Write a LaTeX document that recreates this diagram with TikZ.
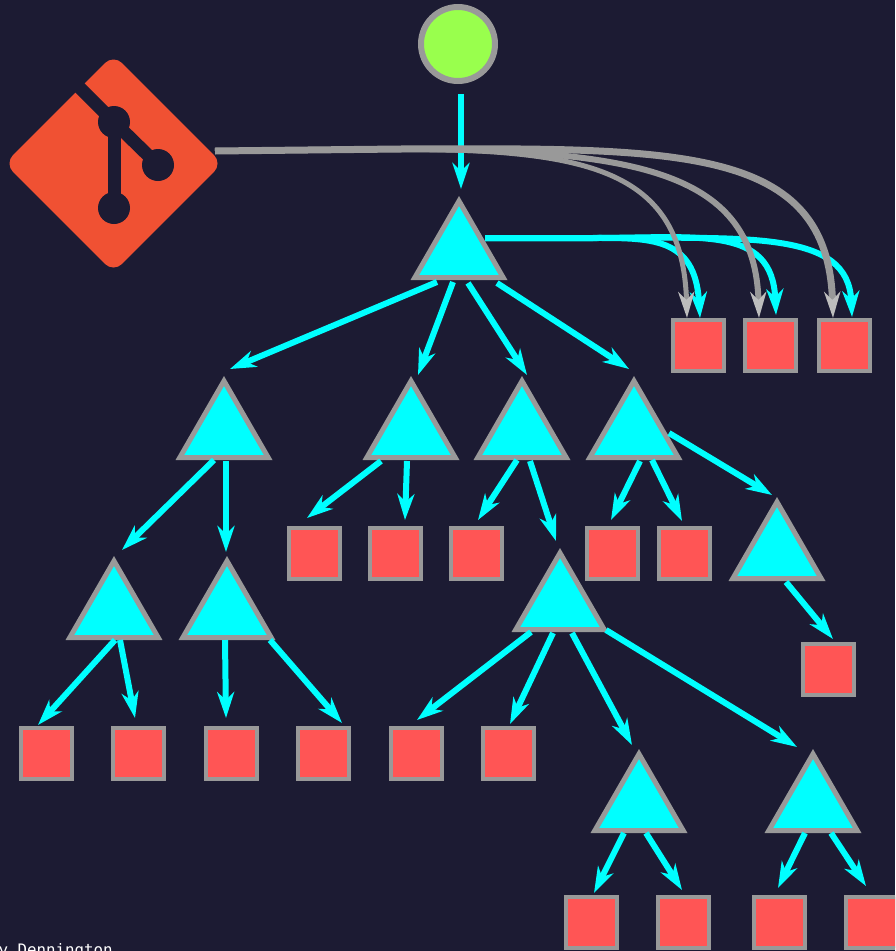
\documentclass[tikz,border=0pt]{standalone}
\usepackage{fontspec}
\usetikzlibrary{arrows.meta,calc,shapes.geometric}
\setmonofont{DejaVu Sans Mono}
\definecolor{bgc}{HTML}{1C1B33}
\definecolor{edgegray}{HTML}{999999}
\definecolor{tipgray}{HTML}{BDBDBD}
\definecolor{cyanc}{HTML}{00FFFF}
\definecolor{redc}{HTML}{FF5555}
\definecolor{limec}{HTML}{99FF4D}
\definecolor{gitc}{HTML}{F05133}
\tikzset{
  tri/.style={regular polygon,regular polygon sides=3,minimum size=102pt,inner sep=0pt,outer sep=0pt,draw=edgegray,fill=cyanc,line width=5pt},
  sq/.style={rectangle,minimum size=51pt,inner sep=0pt,outer sep=0pt,draw=edgegray,fill=redc,line width=4pt},
  startnode/.style={circle,minimum size=74pt,inner sep=0pt,outer sep=0pt,draw=edgegray,fill=limec,line width=6pt},
  flow/.style={cyanc,line width=6pt,-{Stealth[length=26pt,width=17pt,inset=8pt]}},
  gitflow/.style={edgegray,-{Stealth[length=26pt,width=16pt,inset=8pt,fill=tipgray,color=tipgray]}},
  gitlogo/.style={diamond,minimum size=184pt,inner sep=0pt,outer sep=0pt,fill=gitc,draw=gitc,line width=24pt,line join=round},
  gitmark/.style={bgc,line width=13pt},
  gitdot/.style={circle,fill=bgc,minimum size=32pt,inner sep=0pt,outer sep=0pt},
  credit/.style={text=white,font=\ttfamily\fontsize{15.8pt}{16pt}\selectfont,anchor=base west,inner sep=0pt,outer sep=0pt}
}
\newcommand{\conn}[4]{\draw[flow] ($(#1)+(#2)$) -- ($(#3)+(#4)$);}
\begin{document}
\begin{tikzpicture}[x=1pt,y=-1pt]
\useasboundingbox (0,0) rectangle (895,951);
\clip (0,0) rectangle (895,951);
\fill[bgc] (0,0) rectangle (895,951);

% git logo
\node[gitlogo] (git) at (113.5,163.5) {};
\node[gitdot] (gita) at (114,122) {};
\node[gitdot] (gitb) at (158,165) {};
\node[gitdot] (gitc) at (114,208) {};
\coordinate (gitslit) at (74,82);
\draw[gitmark] (gitslit) -- (gita.center) -- (gitb.center);
\draw[gitmark] (gita.center) -- (gitc.center);

% nodes
\node[startnode] (top) at (458,44) {};
\node[tri] (root) at (459,252) {};
\node[tri] (a) at (224,432) {};
\node[tri] (b) at (411,432) {};
\node[tri] (c) at (522,432) {};
\node[tri] (d) at (634,432) {};
\node[tri] (e) at (777,553) {};
\node[tri] (f) at (114,612) {};
\node[tri] (g) at (227,612) {};
\node[tri] (h) at (560,604) {};
\node[tri] (i) at (639,805) {};
\node[tri] (j) at (813,805) {};
\node[sq] (s1) at (698.5,345.5) {};
\node[sq] (s2) at (770.5,345.5) {};
\node[sq] (s3) at (844.5,345.5) {};
\node[sq] (m1) at (314.5,553.5) {};
\node[sq] (m2) at (395.5,553.5) {};
\node[sq] (m3) at (476.5,553.5) {};
\node[sq] (m4) at (612.5,553.5) {};
\node[sq] (m5) at (684.5,553.5) {};
\node[sq] (k) at (828.5,669.5) {};
\node[sq] (n1) at (46,753.5) {};
\node[sq] (n2) at (138.5,753.5) {};
\node[sq] (n3) at (231,753.5) {};
\node[sq] (n4) at (323.5,753.5) {};
\node[sq] (n5) at (416.5,753.5) {};
\node[sq] (n6) at (508.5,753.5) {};
\node[sq] (p1) at (591,922.5) {};
\node[sq] (p2) at (683.5,922.5) {};
\node[sq] (p3) at (779.5,922.5) {};
\node[sq] (p4) at (871.5,922.5) {};

% tree connectors
\conn{top}{3,50}{root}{2,-63}
\conn{root}{-22,30}{a}{6,-63}
\conn{root}{-6,30}{b}{7,-57}
\conn{root}{9,31}{c}{5,-57}
\conn{root}{38,31}{d}{-5,-63}
\conn{a}{-10,28}{f}{8,-62}
\conn{a}{2,29}{g}{-1,-60}
\conn{b}{-30,29}{m1}{-7.5,-35.5}
\conn{b}{-4,29}{m2}{9.5,-33.5}
\conn{c}{-5,28}{m3}{1.5,-33.5}
\conn{c}{8,29}{h}{-4,-63}
\conn{d}{6,29}{m4}{-1.5,-33.5}
\conn{d}{18,28}{m5}{-2.5,-32.5}
\conn{d}{35,1}{e}{-5,-58}
\conn{e}{9,29}{k}{4.5,-30.5}
\conn{f}{1,28}{n1}{-8,-28.5}
\conn{f}{6,28}{n2}{-3.5,-35.5}
\conn{g}{-2,28}{n3}{-5,-35.5}
\conn{g}{43,28}{n4}{18.5,-30.5}
\conn{h}{-29,28}{n5}{0.5,-33.5}
\conn{h}{-7,29}{n6}{1.5,-29.5}
\conn{h}{12,29}{i}{-7,-60}
\conn{h}{46,26}{j}{-16,-58}
\conn{i}{-15,28}{p1}{3,-29.5}
\conn{i}{7,28}{p2}{-1.5,-32.5}
\conn{j}{-8,28}{p3}{-1.5,-34.5}
\conn{j}{18,28}{p4}{-5.5,-36.5}

% curved connectors from the root triangle
\coordinate (rootjoin) at (590,238);
\draw[flow] ($(root)+(26,-14)$) -- (rootjoin) .. controls (650,238) and (695,236) .. ($(s1)+(1.5,-27.5)$);
\draw[flow] ($(root)+(26,-14)$) -- (rootjoin) .. controls (700,238) and (772,225) .. ($(s2)+(5.5,-30.5)$);
\draw[flow] ($(root)+(26,-14)$) -- (rootjoin) .. controls (750,238) and (848,230) .. ($(s3)+(7.5,-28.5)$);

% curved connectors from the git logo
\coordinate (gitjoin) at (400,149);
\draw[gitflow,line width=5pt] ($(git)+(101.5,-12.5)$) -- (gitjoin) .. controls (590,150) and (683,170) .. ($(s1)+(-11.5,-27.5)$);
\draw[gitflow,line width=6pt] ($(git)+(101.5,-12.5)$) -- (gitjoin) .. controls (640,150) and (755,172) .. ($(s2)+(-11.5,-27.5)$);
\draw[gitflow,line width=7pt] ($(git)+(101.5,-12.5)$) -- (gitjoin) .. controls (680,148) and (828,145) .. ($(s3)+(-11.5,-27.5)$);

\node[credit] (creditline) at (-1.5,955.5) {y Dennington};
\end{tikzpicture}
\end{document}
